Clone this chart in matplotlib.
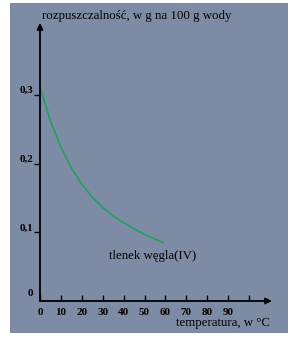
import numpy as np
import matplotlib
matplotlib.use("Agg")
import matplotlib.pyplot as plt
from matplotlib.patches import Rectangle

# solubility of CO2
temp = [0, 5, 10, 15, 20, 25, 30, 35, 40, 45, 50, 55, 59]
solub = [0.312, 0.262, 0.224, 0.194, 0.170, 0.151, 0.136, 0.124, 0.114, 0.105, 0.097, 0.090, 0.085]

xticks = [0, 10, 20, 30, 40, 50, 60, 70, 80, 90, 100]
xlabels = ['0', '10', '20', '30', '40', '50', '60', '70', '80', '90', '']
yticks = [0.1, 0.2, 0.3]
ylabels = ['0,1', '0,2', '0,3']

W, H = 298, 340
plt.rcParams['font.family'] = ['Liberation Serif', 'DejaVu Serif']

fig = plt.figure(figsize=(W / 100, H / 100), dpi=100, facecolor='white')
# blue-grey board behind the chart
fig.patches.append(Rectangle((10 / W, 1 - 333 / H), 278 / W, 330 / H,
                             transform=fig.transFigure, facecolor='#7d8ba5',
                             edgecolor='none', zorder=-5))

ax = fig.add_axes([40 / W, 1 - 301 / H, 232 / W, 278 / H])
ax.set_zorder(2)
ax.set_facecolor('none')
ax.set_xlim(0, 111)
ax.set_ylim(0, 0.4047)
for s in ax.spines.values():
    s.set_visible(False)

# axes with arrow heads
arrow = dict(arrowstyle='-|>', lw=1.3, color='black', mutation_scale=9, shrinkA=0, shrinkB=0)
ax.annotate('', xy=(1, 0), xytext=(0, 0), xycoords='axes fraction', arrowprops=arrow)
ax.annotate('', xy=(0, 1), xytext=(0, 0), xycoords='axes fraction', arrowprops=arrow)

ax.plot(temp, solub, color='#22a060', lw=1.2, solid_capstyle='round', solid_joinstyle='round')

ax.set_xticks(xticks)
ax.set_xticklabels(xlabels, fontsize=8, fontweight='bold')
ax.set_yticks(yticks)
ax.set_yticklabels(ylabels, fontsize=8, fontweight='bold', va='bottom')
ax.tick_params(axis='x', direction='in', length=4, width=1, pad=5, color='black')
ax.tick_params(axis='y', direction='out', length=4, width=1, pad=1, color='black')

ax.text(-4.8, 0.004, '0', fontsize=8, fontweight='bold', ha='center', va='bottom')

fig.text(42 / W, 1 - 16 / H, 'rozpuszczalność, w g na 100 g wody', fontsize=9.3,
         ha='left', va='center', zorder=3)
fig.text(153 / W, 1 - 256 / H, 'tlenek węgla(IV)', fontsize=9.3, ha='center', va='center', zorder=3)
fig.text(270 / W, 1 - 323 / H, 'temperatura, w °C', fontsize=9.3, ha='right', va='center', zorder=3)

fig.savefig('out.png', dpi=100)
